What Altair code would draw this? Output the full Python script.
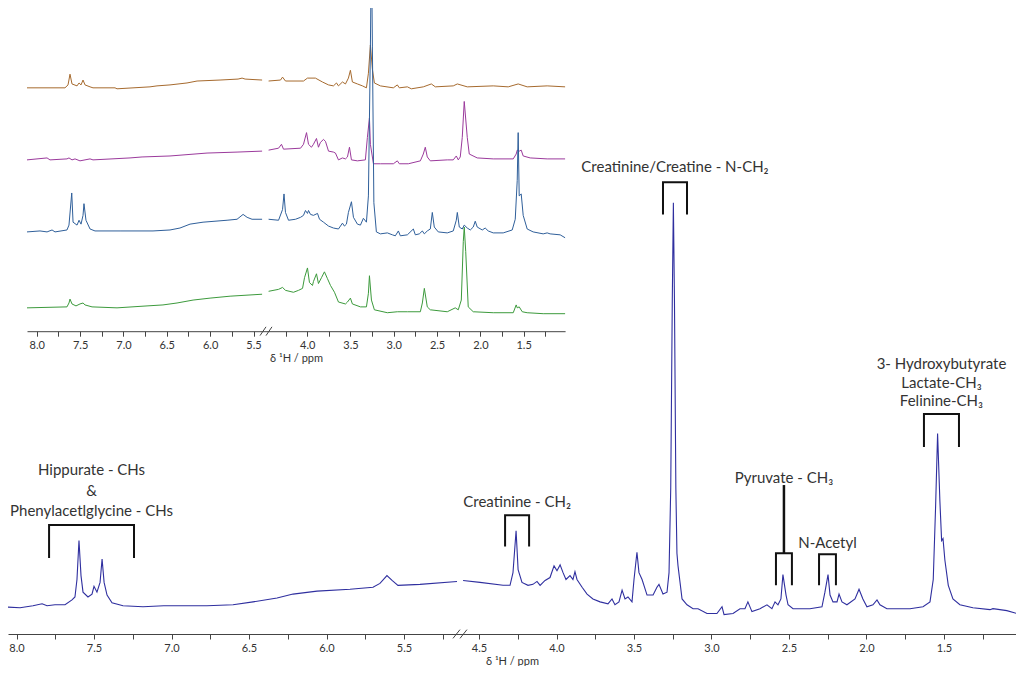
import altair as alt
import pandas as pd

FONT = "Lato"
TEXT_C = "#333333"
AXIS_C = "#444444"

# ---------------- values (ppm, intensity a.u.) ----------------
main_spectrum = [
    (8.100, 28), (7.977, 27), (7.894, 29), (7.835, 31), (7.803, 29), (7.752, 30), (7.687, 30),
    (7.642, 35), (7.623, 38), (7.610, 56), (7.597, 96), (7.584, 60), (7.571, 43), (7.539, 38),
    (7.513, 41), (7.500, 49), (7.481, 43), (7.461, 53), (7.448, 77), (7.435, 53), (7.416, 40),
    (7.384, 32), (7.313, 29), (7.184, 28), (7.050, 29), (6.926, 29), (6.771, 29), (6.603, 30),
    (6.474, 33), (6.319, 37), (6.216, 41), (6.061, 44), (5.848, 46), (5.700, 48), (5.655, 52),
    (5.610, 60), (5.577, 55), (5.539, 50), (5.397, 51), (5.158, 54),
    (4.603, 55), (4.494, 53), (4.345, 50), (4.300, 50), (4.281, 63), (4.261, 106), (4.248, 66),
    (4.223, 53), (4.184, 50), (4.152, 51), (4.126, 54), (4.106, 50), (4.074, 55), (4.042, 58),
    (4.016, 70), (3.997, 65), (3.977, 71), (3.958, 63), (3.939, 56), (3.913, 60), (3.894, 56),
    (3.881, 64), (3.868, 56), (3.835, 48), (3.803, 41), (3.765, 36), (3.719, 33), (3.668, 31),
    (3.642, 36), (3.623, 30), (3.597, 33), (3.577, 45), (3.558, 36), (3.539, 38), (3.513, 33),
    (3.500, 56), (3.481, 84), (3.468, 63), (3.448, 56), (3.416, 40), (3.377, 40), (3.352, 48),
    (3.339, 51), (3.313, 41), (3.287, 43), (3.274, 63), (3.263, 150), (3.253, 343), (3.246, 443),
    (3.239, 343), (3.230, 150), (3.223, 83), (3.216, 70), (3.203, 53), (3.190, 36), (3.158, 30),
    (3.119, 26), (3.087, 26), (3.029, 21), (2.965, 21), (2.932, 28), (2.919, 20), (2.861, 21),
    (2.816, 26), (2.784, 26), (2.765, 33), (2.739, 23), (2.687, 26), (2.642, 30), (2.610, 26),
    (2.590, 33), (2.571, 30), (2.552, 36), (2.539, 61), (2.519, 40), (2.506, 30), (2.474, 26),
    (2.365, 26), (2.287, 28), (2.268, 43), (2.248, 61), (2.235, 40), (2.216, 33), (2.190, 33),
    (2.177, 41), (2.158, 33), (2.126, 30), (2.074, 36), (2.048, 46), (2.023, 36), (1.997, 28),
    (1.958, 30), (1.932, 35), (1.913, 30), (1.868, 26), (1.719, 26), (1.635, 28), (1.590, 33),
    (1.569, 56), (1.554, 130), (1.541, 206), (1.526, 136), (1.515, 96), (1.506, 98), (1.494, 76),
    (1.472, 50), (1.442, 36), (1.397, 30), (1.313, 27), (1.203, 25), (1.184, 26), (1.094, 24),
    (1.029, 21), (0.990, 19),
]

brown_trace = [
    (8.112, 0), (7.674, 0), (7.639, 3), (7.616, 14), (7.593, 4), (7.535, 2), (7.512, 5), (7.489, 3),
    (7.466, 8), (7.443, 3), (7.385, 1), (7.351, 0), (7.097, 0), (7.074, -1), (6.694, 1), (6.613, 2),
    (6.463, 3), (6.267, 5), (6.151, 7), (5.886, 8), (5.678, 9), (5.632, 10), (5.597, 9), (5.401, 8),
    (4.446, 7), (4.308, 8), (4.285, 11), (4.251, 7), (4.043, 7), (3.997, 10), (3.905, 10), (3.824, 6),
    (3.754, 3), (3.697, 2), (3.662, 5), (3.639, 2), (3.593, 6), (3.558, 4), (3.524, 10), (3.501, 18),
    (3.478, 6), (3.420, 4), (3.362, 2), (3.316, 0), (3.293, 15), (3.270, 44), (3.247, 19), (3.224, 5),
    (3.155, 2), (3.005, 0), (2.959, 3), (2.936, 0), (2.843, 1), (2.797, -1), (2.659, 1), (2.566, 4),
    (2.520, 1), (2.313, 2), (2.266, 4), (2.151, 1), (1.851, 2), (1.678, 1), (1.563, 4), (1.459, 1),
    (1.228, 2), (1.021, 1),
]

purple_trace = [
    (8.112, 0), (7.881, 2), (7.847, 0), (7.651, 1), (7.628, 2), (7.593, 0), (7.558, 1), (7.501, -1),
    (7.385, 1), (7.351, 0), (6.924, 2), (6.785, 3), (6.463, 4), (6.036, 7), (5.690, 8), (5.401, 9),
    (4.446, 10), (4.331, 12), (4.297, 16), (4.274, 11), (4.077, 12), (4.043, 16), (4.008, 28),
    (3.985, 16), (3.951, 13), (3.928, 16), (3.893, 22), (3.870, 13), (3.847, 18), (3.812, 21),
    (3.789, 19), (3.754, 9), (3.697, 8), (3.674, 7), (3.639, 0), (3.593, 2), (3.558, 1), (3.535, 3),
    (3.512, 13), (3.489, 0), (3.420, -1), (3.328, 0), (3.305, 23), (3.281, 43), (3.270, 16),
    (3.235, -4), (3.155, -4), (3.005, -4), (2.959, -1), (2.936, -4), (2.832, -4), (2.693, -1),
    (2.659, 6), (2.636, 13), (2.613, 3), (2.578, -1), (2.382, 0), (2.313, 0), (2.278, 4), (2.255, 0),
    (2.232, 3), (2.209, 23), (2.186, 60), (2.151, 23), (2.128, 6), (2.036, 2), (1.851, 1), (1.620, 1),
    (1.586, 6), (1.574, 10), (1.551, 9), (1.528, 10), (1.505, 4), (1.424, 2), (1.228, 1), (1.021, 1),
]

blue_trace = [
    (8.112, 0), (7.962, 1), (7.881, 0), (7.823, 2), (7.789, 0), (7.651, 2), (7.628, 7), (7.596, 40),
    (7.581, 10), (7.535, 7), (7.512, 12), (7.489, 8), (7.466, 17), (7.455, 29), (7.432, 12),
    (7.385, 3), (7.328, 1), (7.039, 1), (6.659, 1), (6.463, 2), (6.348, 4), (6.232, 8), (6.082, 10),
    (5.805, 12), (5.690, 13), (5.620, 18), (5.574, 15), (5.517, 13), (5.401, 13),
    (4.446, 13), (4.331, 12), (4.285, 23), (4.268, 39), (4.251, 20), (4.216, 12), (4.135, 13),
    (4.077, 15), (4.043, 17), (4.020, 22), (3.997, 19), (3.985, 22), (3.962, 18), (3.928, 17),
    (3.881, 19), (3.858, 13), (3.812, 10), (3.754, 6), (3.697, 4), (3.639, 3), (3.593, 9),
    (3.570, 6), (3.547, 8), (3.524, 20), (3.489, 31), (3.466, 15), (3.420, 8), (3.385, 7),
    (3.351, 14), (3.316, 10), (3.293, 37), (3.270, 190), (3.258, 300), (3.247, 190), (3.230, 30),
    (3.201, 0), (3.155, -2), (3.074, -1), (3.016, -3), (2.982, -4), (2.947, 1), (2.924, -4),
    (2.843, -3), (2.774, 3), (2.751, -3), (2.705, -2), (2.670, 1), (2.647, -2), (2.613, 1),
    (2.578, 3), (2.555, 20), (2.532, 5), (2.486, 0), (2.382, -1), (2.313, 1), (2.278, 12),
    (2.266, 20), (2.243, 5), (2.209, 3), (2.186, 7), (2.151, 4), (2.116, 2), (2.082, 5), (2.059, 11),
    (2.036, 5), (1.978, 2), (1.944, 4), (1.909, 1), (1.851, -1), (1.736, -1), (1.632, 2),
    (1.597, 13), (1.574, 53), (1.563, 102), (1.551, 37), (1.528, 39), (1.505, 17), (1.459, 3),
    (1.390, 0), (1.274, -2), (1.228, -1), (1.194, -2), (1.078, -3), (1.021, -6),
]

green_trace = [
    (8.112, 0), (7.651, 1), (7.628, 5), (7.616, 9), (7.593, 4), (7.547, 2), (7.501, 4), (7.466, 5),
    (7.443, 3), (7.362, 1), (7.074, 0), (6.728, 2), (6.544, 3), (6.382, 5), (6.197, 8), (6.001, 10),
    (5.770, 12), (5.401, 14),
    (4.446, 17), (4.331, 19), (4.285, 21), (4.251, 18), (4.159, 16), (4.100, 18), (4.054, 20),
    (4.031, 31), (3.997, 41), (3.974, 26), (3.939, 23), (3.928, 27), (3.893, 35), (3.870, 25),
    (3.835, 31), (3.801, 37), (3.766, 30), (3.731, 23), (3.685, 16), (3.639, 6), (3.558, 4),
    (3.535, 6), (3.501, 10), (3.478, 4), (3.385, 1), (3.316, 1), (3.293, 15), (3.281, 33),
    (3.258, 8), (3.224, -2), (3.074, -5), (2.959, -4), (2.843, -4), (2.693, -4), (2.670, 5),
    (2.647, 20), (2.613, 1), (2.578, -2), (2.382, -4), (2.290, 0), (2.255, -2), (2.220, 8),
    (2.197, 68), (2.186, 83), (2.169, 58), (2.140, 1), (2.082, -4), (1.851, -5), (1.620, -5),
    (1.586, 3), (1.574, 0), (1.551, 1), (1.516, -4), (1.459, -5), (1.274, -6), (1.021, -6),
]

inset_names = ["brown", "purple", "green", "blue"]          # drawing order
inset_colors = {"brown": "#a66a2e", "purple": "#9b3a9c", "blue": "#2f5f9a", "green": "#3c9a3c"}
inset_stack = {"brown": 250, "purple": 176, "blue": 102, "green": 24}   # vertical stacking offsets
INSET_LEVEL = 311          # inset baseline level, in main intensity units

main_ticks = [8.0, 7.75, 7.5, 7.25, 7.0, 6.75, 6.5, 6.25, 6.0, 5.75, 5.5, 5.25,
              4.5, 4.25, 4.0, 3.75, 3.5, 3.25, 3.0, 2.75, 2.5, 2.25, 2.0, 1.75, 1.5, 1.25]
inset_ticks = [8.0, 7.75, 7.5, 7.25, 7.0, 6.75, 6.5, 6.25, 6.0, 5.75, 5.5,
               4.25, 4.0, 3.75, 3.5, 3.25, 3.0, 2.75, 2.5, 2.25, 2.0, 1.75, 1.5, 1.25]

# broken axes: (left end, break start, break end, right end) in ppm
main_domain = [8.055, 5.158, 4.610, 1.035]
inset_domain = [8.112, 5.401, 4.446, 1.021]

# brackets (ppm left/right, intensity of bar and feet)
bracket_left = [7.790, 4.332, 3.313, 2.584, 2.306, 1.629]
bracket_right = [7.242, 4.177, 3.158, 2.481, 2.197, 1.403]
bracket_top = [112, 122, 464, 83, 82, 226]
bracket_foot = [78, 90, 431, 50, 50, 192]
stem_ppm, stem_from, stem_to = [2.5325], [83], [153]

# annotation texts, each centred over its bracket (index into the bracket lists)
ann_text = ["Hippurate - CHs", "&", "Phenylacetlglycine - CHs", "Creatinine - CH₂",
            "Creatinine/Creatine - N-CH₂", "Pyruvate - CH₃", "N-Acetyl",
            "3- Hydroxybutyrate", "Lactate-CH₃", "Felinine-CH₃"]
ann_bracket = [0, 0, 0, 1, 2, 3, 4, 5, 5, 5]
ann_int = [168, 147, 126, 136, 480, 160, 93, 277, 258, 239]

# ---------------- layout ----------------
W, H = 1008, 626
Y_MAX = 643

main_scale = alt.Scale(domain=main_domain, range=[0, 449, 454, W], nice=False, zero=False)
inset_scale = alt.Scale(domain=inset_domain, range=[19, 254.1, 260.6, 557.1], nice=False, zero=False)
y_scale = alt.Scale(domain=[0, Y_MAX], nice=False, zero=False)

LABEL_EXPR = "abs(datum.value * 2 - round(datum.value * 2)) < 0.01 ? format(datum.value, '.1f') : ''"


def ppm_axis(values, offset):
    return alt.Axis(values=values, labelExpr=LABEL_EXPR, title="δ ¹H / ppm", orient="bottom",
                    offset=offset, grid=False, tickSize=5, tickColor=AXIS_C, domainColor=AXIS_C,
                    labelColor=TEXT_C, titleColor=TEXT_C, labelFont=FONT, titleFont=FONT,
                    labelFontSize=11, titleFontSize=11, titleFontWeight="normal",
                    labelPadding=3, titlePadding=2, labelFlush=False, labelOverlap=False)


main_axis = ppm_axis(main_ticks, 0)
inset_axis = ppm_axis(inset_ticks, -round(INSET_LEVEL * H / Y_MAX, 1))


def mx(field):
    return alt.X(field, type="quantitative", scale=main_scale, axis=main_axis)


def ix(field):
    return alt.X(field, type="quantitative", scale=inset_scale, axis=inset_axis)


def yy(field):
    return alt.Y(field, type="quantitative", scale=y_scale, axis=None)


# ---------------- tables ----------------
main_df = pd.DataFrame(main_spectrum, columns=["ppm", "h"])
main_df["seg"] = ["L" if p >= main_domain[1] - 1e-9 else "R" for p in main_df["ppm"]]

inset_frames = {}
for name, pairs in [("brown", brown_trace), ("purple", purple_trace),
                    ("blue", blue_trace), ("green", green_trace)]:
    d = pd.DataFrame(pairs, columns=["ppm", "v"])
    d["h"] = INSET_LEVEL + inset_stack[name] + d["v"]
    d["seg"] = ["L" if p >= inset_domain[1] - 1e-9 else "R" for p in d["ppm"]]
    inset_frames[name] = d

rows = []
for i, (l, r, t, f) in enumerate(zip(bracket_left, bracket_right, bracket_top, bracket_foot)):
    for k, (p, h) in enumerate([(l, f), (l, t), (r, t), (r, f)]):
        rows.append({"id": i, "k": k, "ppm": p, "h": h})
bracket_df = pd.DataFrame(rows)
stem_df = pd.DataFrame({"ppm": stem_ppm, "h1": stem_from, "h2": stem_to})
ann_df = pd.DataFrame({
    "label": ann_text,
    "ppm": [(bracket_left[b] + bracket_right[b]) / 2 for b in ann_bracket],
    "h": ann_int,
})

main_slash_df = pd.DataFrame({"x1": [5.184, 4.829], "x2": [4.829, 4.578],
                              "y1": [-4.5, -4.5], "y2": [4.5, 4.5]})
inset_slash_df = pd.DataFrame({"x1": [5.425, 4.828], "x2": [4.828, 4.407],
                               "y1": [INSET_LEVEL - 4.5] * 2, "y2": [INSET_LEVEL + 4.5] * 2})

# ---------------- main panel ----------------
main_line = alt.Chart(main_df).mark_line(color="#2f2f9f", strokeWidth=1.1, clip=True).encode(
    x=mx("ppm"), y=yy("h"), detail="seg:N")
brackets = alt.Chart(bracket_df).mark_line(color="#111111", strokeWidth=2, strokeJoin="miter",
                                           strokeCap="butt").encode(
    x=mx("ppm"), y=yy("h"), detail="id:N", order="k:Q")
stem = alt.Chart(stem_df).mark_rule(color="#111111", strokeWidth=2.5).encode(
    x=mx("ppm"), y=yy("h1"), y2="h2:Q")
labels = alt.Chart(ann_df).mark_text(font=FONT, fontSize=15, color=TEXT_C,
                                     baseline="middle", align="center").encode(
    x=mx("ppm"), y=yy("h"), text="label:N")
main_slash = alt.Chart(main_slash_df).mark_rule(color=AXIS_C, strokeWidth=1).encode(
    x=mx("x1"), x2="x2:Q", y=yy("y1"), y2="y2:Q")
main_panel = alt.layer(main_line, brackets, stem, labels, main_slash)

# ---------------- inset ----------------
inset_layers = [
    alt.Chart(inset_frames[n]).mark_line(color=inset_colors[n], strokeWidth=1, clip=True).encode(
        x=ix("ppm"), y=yy("h"), detail="seg:N")
    for n in inset_names
]
inset_slash = alt.Chart(inset_slash_df).mark_rule(color=AXIS_C, strokeWidth=1).encode(
    x=ix("x1"), x2="x2:Q", y=yy("y1"), y2="y2:Q")
inset_panel = alt.layer(*inset_layers, inset_slash)

chart = (
    alt.layer(main_panel, inset_panel)
    .resolve_scale(x="independent")
    .resolve_axis(x="independent")
    .properties(width=W, height=H, padding=0, background="white")
    .configure_view(stroke=None)
)

chart.save("out.html", embed_options={"renderer": "svg", "actions": False})
